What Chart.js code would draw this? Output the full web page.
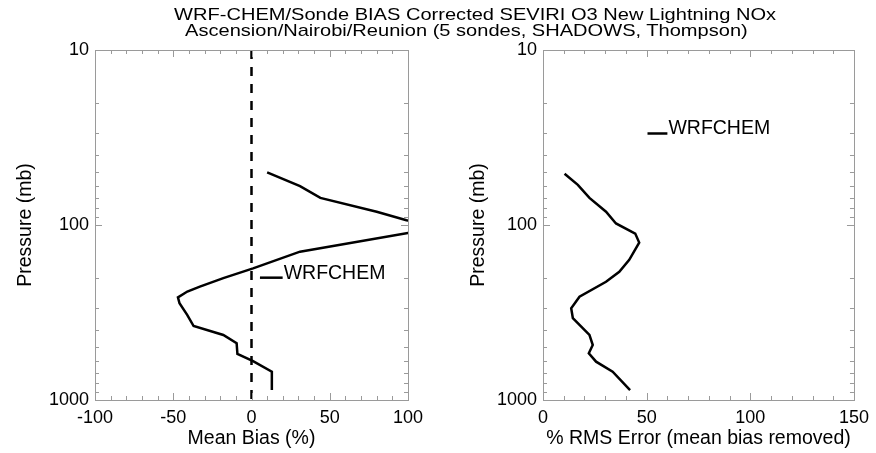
<!DOCTYPE html>
<html>
<head>
<meta charset="utf-8">
<script src="https://cdn.jsdelivr.net/npm/chart.js@4.4.1/dist/chart.umd.min.js"></script>
<style>
  body { margin: 0; background: #fff; }
  #wrap { position: relative; width: 876px; height: 453px; overflow: hidden; }
  #wrap canvas { position: absolute; top: 0; }
  #left { left: 0; }
  #right { left: 438px; }
  .title { position: absolute; width: 876px; text-align: center;
           font-family: "Liberation Sans", Arial, sans-serif; font-size: 17px; line-height: 17px; color: #000; }
  .title span { display: inline-block; transform: scaleX(1.18); }
</style>
</head>
<body>
<div id="wrap">
  <canvas id="left" width="438" height="453"></canvas>
  <canvas id="right" width="438" height="453"></canvas>
  <div class="title" style="top:6px; left:37px"><span>WRF-CHEM/Sonde BIAS Corrected SEVIRI O3 New Lightning NOx</span></div>
  <div class="title" style="top:22px; left:28px"><span>Ascension/Nairobi/Reunion (5 sondes, SHADOWS, Thompson)</span></div>
</div>
<script>
// left panel: mean bias (%) vs pressure (mb)
const pressBias = [50, 60, 70, 84, 94, 101, 111, 142, 177, 201, 225, 240, 259, 280, 327, 378, 425, 474, 546, 599, 689, 877];
const meanBias  = [10, 31, 44, 80, 99, 125, 100, 31, 1, -18, -33, -41, -47, -46, -41, -37, -18, -9.5, -9, 1, 13, 13];

// right panel: % RMS error vs pressure (mb)
const pressRms = [51, 59, 70, 84, 98, 112, 126, 158, 185, 211, 257, 299, 341, 425, 485, 541, 604, 689, 877];
const rmsError = [10.4, 16.8, 22.4, 30.4, 35.2, 44.5, 46.4, 41.6, 36.8, 30.4, 17.6, 13.6, 14.4, 22.4, 24, 22.1, 25.6, 33.6, 42];

// zero reference line
const zeroX = [0, 0];
const zeroP = [10, 1000];

// tick labels
const biasTicks = [-100, -50, 0, 50, 100];
const rmsTicks = [0, 50, 100, 150];
const pressTicks = [10, 100, 1000];

const FONT = "'Liberation Sans', Arial, sans-serif";
const GREY = '#9a9a9a';

function pts(xs, ys) {
  return xs.map((v, i) => ({ x: v, y: ys[i] }));
}

// frame, inward ticks and the little line legend
const framePlugin = {
  id: 'frame',
  afterDatasetsDraw(chart, args, opts) {
    const { ctx, chartArea: a, scales: { x, y } } = chart;
    ctx.save();
    ctx.strokeStyle = GREY;
    ctx.lineWidth = 1;
    ctx.strokeRect(Math.round(a.left) + 0.5, Math.round(a.top) + 0.5,
                   Math.round(a.width), Math.round(a.height));
    ctx.beginPath();
    for (let v = x.min; v <= x.max + 0.001; v += 10) {
      const px = Math.round(x.getPixelForValue(v)) + 0.5;
      const len = (v % 50 === 0) ? 7 : 4;
      ctx.moveTo(px, a.bottom); ctx.lineTo(px, a.bottom - len);
      ctx.moveTo(px, a.top); ctx.lineTo(px, a.top + len);
    }
    for (let d = 10; d <= 1000; d *= 10) {
      for (let k = 1; k <= 9; k++) {
        const v = d * k;
        if (v > 1000) break;
        const py = Math.round(y.getPixelForValue(v)) + 0.5;
        const len = (k === 1) ? 7 : 4;
        ctx.moveTo(a.left, py); ctx.lineTo(a.left + len, py);
        ctx.moveTo(a.right, py); ctx.lineTo(a.right - len, py);
      }
    }
    ctx.stroke();

    const lg = opts.legend;
    if (lg) {
      const x1 = x.getPixelForValue(lg.x1), x2 = x.getPixelForValue(lg.x2);
      const py = y.getPixelForValue(lg.p);
      ctx.strokeStyle = '#000';
      ctx.lineWidth = 2.5;
      ctx.beginPath();
      ctx.moveTo(x1, py); ctx.lineTo(x2, py);
      ctx.stroke();
      ctx.fillStyle = '#000';
      ctx.font = '19.5px ' + FONT;
      ctx.textBaseline = 'alphabetic';
      ctx.fillText(lg.text, x2 + 1, py + 1);
    }
    ctx.restore();
  }
};

function makeChart(id, datasets, xMin, xMax, xTicks, xTitle, yWidth, yTitlePad, padRight, legend) {
  return new Chart(document.getElementById(id), {
    type: 'line',
    data: { datasets: datasets },
    options: {
      responsive: false,
      animation: false,
      layout: { padding: { top: 50, right: padRight, left: 0, bottom: 0 } },
      plugins: { legend: { display: false }, tooltip: { enabled: false }, frame: { legend: legend } },
      elements: { point: { radius: 0 }, line: { tension: 0 } },
      scales: {
        x: {
          type: 'linear', min: xMin, max: xMax,
          grid: { display: false, drawTicks: false },
          border: { display: false },
          afterBuildTicks: s => { s.ticks = xTicks.map(v => ({ value: v })); },
          afterFit: s => { s.height = 53; },
          ticks: { color: '#000', padding: 7, maxRotation: 0, font: { family: FONT, size: 18 } },
          title: { display: true, text: xTitle, color: '#000', padding: { top: 0, bottom: 3 },
                   font: { family: FONT, size: 19.5 } }
        },
        y: {
          type: 'logarithmic', min: 10, max: 1000, reverse: true,
          grid: { display: false, drawTicks: false },
          border: { display: false },
          afterBuildTicks: s => { s.ticks = pressTicks.map(v => ({ value: v })); },
          afterFit: s => { s.width = yWidth; },
          ticks: { color: '#000', padding: 6, font: { family: FONT, size: 18 },
                   callback: v => String(v) },
          title: { display: true, text: 'Pressure (mb)', color: '#000',
                   padding: { top: yTitlePad, bottom: yTitlePad },
                   font: { family: FONT, size: 19.5 } }
        }
      }
    },
    plugins: [framePlugin]
  });
}

makeChart('left', [
  { data: pts(zeroX, zeroP), borderColor: '#000', borderWidth: 2.5, borderDash: [9, 8] },
  { data: pts(meanBias, pressBias), borderColor: '#000', borderWidth: 2.5 }
], -100, 100, biasTicks, 'Mean Bias (%)', 95, 14, 30,
  { x1: 5.4, x2: 19.9, p: 200, text: 'WRFCHEM' });

makeChart('right', [
  { data: pts(rmsError, pressRms), borderColor: '#000', borderWidth: 2.5 }
], 0, 150, rmsTicks, '% RMS Error (mean bias removed)', 105, 29, 20,
  { x1: 50.4, x2: 60, p: 30, text: 'WRFCHEM' });
</script>
</body>
</html>
